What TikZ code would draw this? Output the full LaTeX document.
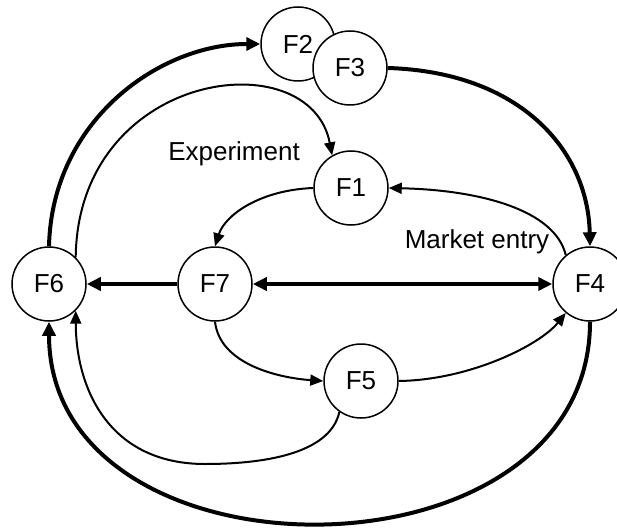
\documentclass[tikz,border=0pt]{standalone}
\usepackage{fontspec}
\setmainfont{Liberation Sans}
\usetikzlibrary{arrows.meta}
\begin{document}
\begin{tikzpicture}[x=1pt,y=-1pt,
  fnode/.style={circle,draw,line width=1.5pt,fill=white,minimum size=74pt,inner sep=0pt,font=\fontsize{26}{30}\selectfont},
  thickarr/.style={line width=4pt,-{Triangle[length=14pt,width=13pt]}},
  thinarr/.style={line width=2pt,-{Triangle[length=13pt,width=11pt]}},
  lbl/.style={font=\fontsize{26}{30}\selectfont,inner sep=0pt}]
\useasboundingbox (0,0) rectangle (617,529);
\node[fnode] (F2) at (298,44) {F2};
\node[fnode] (F3) at (350,68) {F3};
\node[fnode] (F1) at (351,188) {F1};
\node[fnode] (F6) at (49,284) {F6};
\node[fnode] (F7) at (215,284) {F7};
\node[fnode] (F4) at (590,284) {F4};
\node[fnode] (F5) at (361,381) {F5};
\node[lbl] (exp) at (234,154) {Experiment};
\node[lbl] (mkt) at (477,242) {Market entry};
% thick
\draw[thickarr] (F6.north) .. controls (52,120) and (160,44) .. (F2.west);
\draw[thickarr] (F3.east) .. controls (520,72) and (588,150) .. (F4.north);
\draw[thickarr] (F4.south) .. controls (590,590) and (49,590) .. (F6.south);
\draw[thickarr] (F7) -- (F6);
\draw[line width=4pt,{Triangle[length=14pt,width=13pt]}-{Triangle[length=14pt,width=13pt]}] (F7) -- (F4);
% thin
\draw[thinarr] (F6.45) .. controls (78,70) and (310,40) .. (F1.120);
\draw[thinarr] (F1.west) .. controls (260,190) and (225,215) .. (F7.north);
\draw[thinarr] (F4.130) .. controls (555,210) and (480,190) .. (F1.east);
\draw[thinarr] (F7.south) .. controls (220,365) and (280,378) .. (F5.west);
\draw[thinarr] (F5.east) .. controls (470,380) and (540,345) .. (F4.230);
\draw[thinarr] (F5.235) .. controls (330,455) and (260,464) .. (205,464) .. controls (110,464) and (76,390) .. (F6.-45);
\end{tikzpicture}
\end{document}
